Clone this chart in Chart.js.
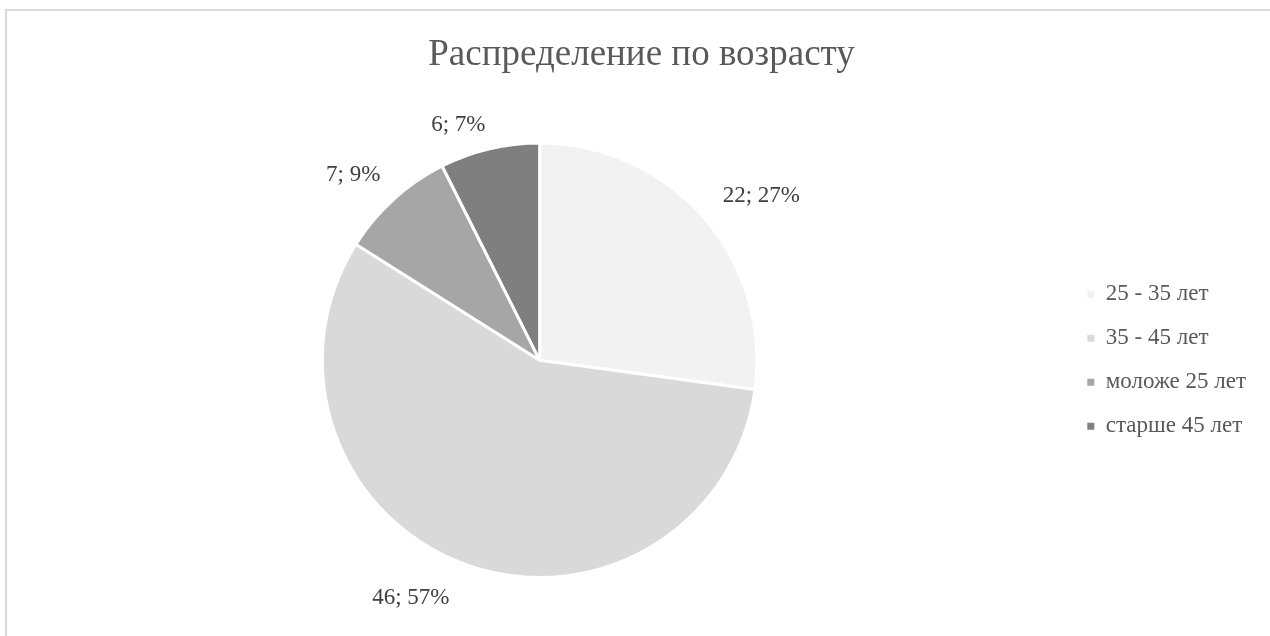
<!DOCTYPE html>
<html lang="ru">
<head>
<meta charset="utf-8">
<title>Распределение по возрасту</title>
<script src="https://cdn.jsdelivr.net/npm/chart.js@4.4.1/dist/chart.umd.min.js"></script>
<style>
  html, body { margin: 0; padding: 0; background: #fff; overflow: hidden; }
  #frame {
    position: absolute; left: 5px; top: 9px; width: 1300px; height: 700px;
    border-top: 2px solid #d9d9d9; border-left: 2px solid #d9d9d9;
  }
  #wrap { position: absolute; left: 0; top: 0; width: 1270px; height: 636px; }
</style>
</head>
<body>
<div id="frame"></div>
<div id="wrap"><canvas id="agePie" width="1270" height="636"></canvas></div>
<script>
const ageGroups = ["25 - 35 лет", "35 - 45 лет", "моложе 25 лет", "старше 45 лет"];
const ageCounts = [22, 46, 7, 6];
const agePercents = [27, 57, 9, 7];
const sliceColors = ["#f2f2f2", "#d9d9d9", "#a6a6a6", "#7f7f7f"];

const serif = '"Liberation Serif", "Times New Roman", serif';

// "value; percent" labels just outside each slice, along its middle angle,
// with a small per-label nudge (px) so they sit where the office layout puts them
const outsideLabels = {
  id: 'outsideLabels',
  afterDatasetsDraw(chart, args, opts) {
    const { ctx } = chart;
    const meta = chart.getDatasetMeta(0);
    ctx.save();
    ctx.font = opts.size + 'px ' + serif;
    ctx.fillStyle = opts.color;
    ctx.textAlign = 'center';
    ctx.textBaseline = 'middle';
    meta.data.forEach((arc, i) => {
      const text = ageCounts[i] + '; ' + agePercents[i] + '%';
      const mid = (arc.startAngle + arc.endAngle) / 2;
      const w = ctx.measureText(text).width;
      const h = 22;
      const cos = Math.cos(mid), sin = Math.sin(mid);
      const dist = arc.outerRadius + 10 + Math.abs(cos) * w / 2 + Math.abs(sin) * h / 2;
      const [nx, ny] = opts.nudge[i] || [0, 0];
      ctx.fillText(text, arc.x + cos * dist + nx, arc.y + sin * dist + ny);
    });
    ctx.restore();
  }
};

// title is centred a little right of the plot+legend span
const titleShift = {
  id: 'titleShift',
  afterLayout(chart, args, opts) {
    chart.titleBlock.left += opts.dx;
    chart.titleBlock.right += opts.dx;
  }
};

new Chart(document.getElementById('agePie').getContext('2d'), {
  type: 'pie',
  data: {
    labels: ageGroups,
    datasets: [{
      data: ageCounts,
      backgroundColor: sliceColors,
      borderColor: '#ffffff',
      borderWidth: 3
    }]
  },
  options: {
    responsive: false,
    animation: false,
    events: [],
    layout: { padding: { left: 13, right: 14, top: 0, bottom: 57 } },
    plugins: {
      title: {
        display: true,
        text: 'Распределение по возрасту',
        color: '#595959',
        font: { family: serif, size: 37, weight: 'normal', lineHeight: 1.2 },
        padding: { top: 33, bottom: 64 }
      },
      legend: {
        position: 'right',
        fullSize: false,
        labels: {
          boxWidth: 7,
          boxHeight: 7,
          padding: 21,
          color: '#595959',
          font: { family: serif, size: 23 },
          generateLabels(chart) {
            return Chart.overrides.pie.plugins.legend.labels.generateLabels(chart)
              .map(item => Object.assign(item, { lineWidth: 0 }));
          }
        }
      },
      tooltip: { enabled: false },
      outsideLabels: {
        size: 23,
        color: '#404040',
        nudge: [[23, 9], [-43, 2], [-16, 3], [-25, 2]]
      },
      titleShift: { dx: 7 }
    }
  },
  plugins: [outsideLabels, titleShift]
});
</script>
</body>
</html>
